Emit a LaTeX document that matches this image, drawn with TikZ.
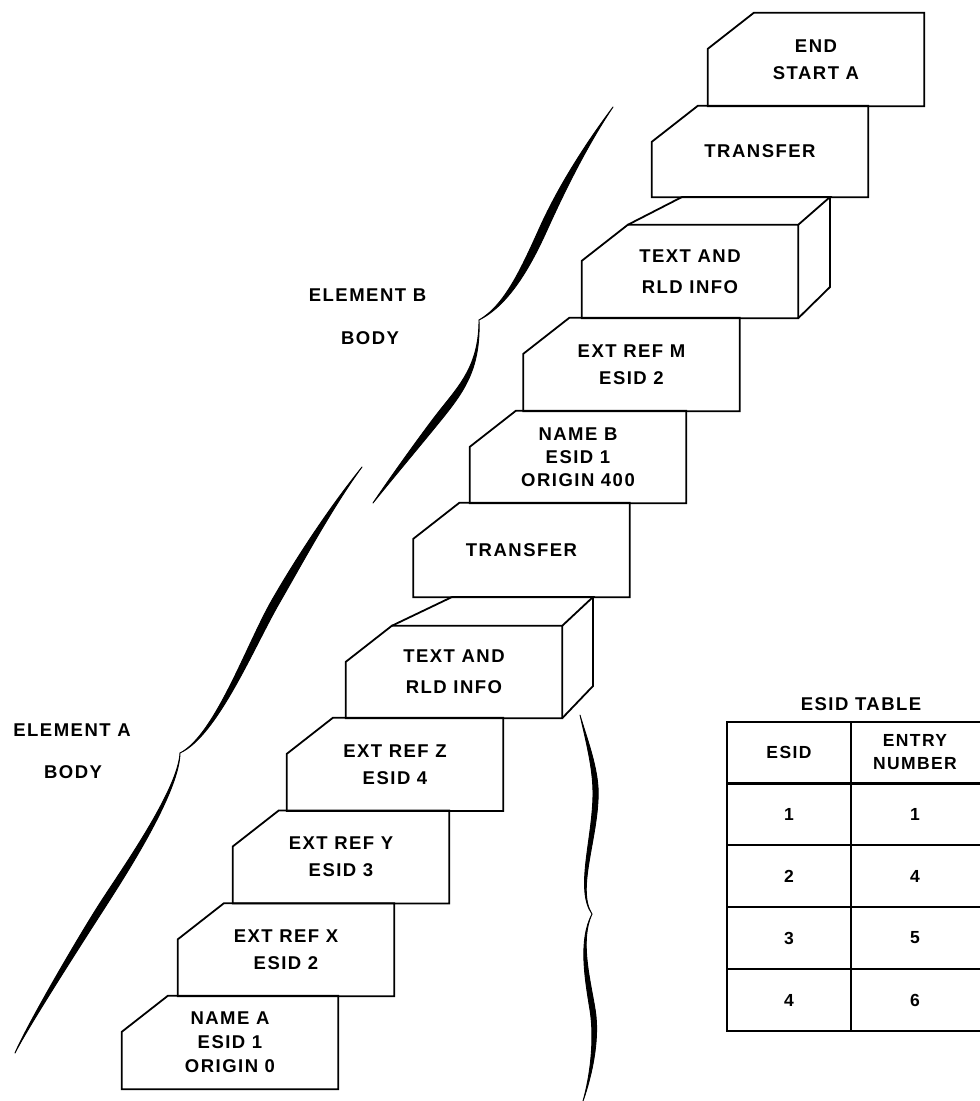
\documentclass[tikz,border=0pt]{standalone}
\usepackage{fontspec}
\newfontfamily\lsans{Liberation Sans}[LetterSpace=8]
\usetikzlibrary{calc}

% card: name, centre x, centre y, height, baselineskip, text
\newcommand\mkcard[6]{%
  \node[cardtext, minimum height=#4, font={\lsans\bfseries\fontsize{18.5}{#5}\selectfont}] (#1) at (#2,#3) {#6};
  \draw[cardline] ($(#1.north west)+(46,0)$) -- (#1.north east) -- (#1.south east)
     -- (#1.south west) -- ($(#1.north west)+(0,36)$) -- cycle;}

% tapered brush stroke: S, A1, A2, M, B1, B2, E, offset
\newcommand\brushstroke[8]{%
  \filldraw[brush] #1 .. controls #2 and #3 .. #4 .. controls #5 and #6 .. #7
    .. controls ($#6+0.3*#8$) and ($#5+#8$) .. ($#4+#8$)
    .. controls ($#3+#8$) and ($#2+0.3*#8$) .. #1 -- cycle;}

\begin{document}
\begin{tikzpicture}[x=1pt,y=-1pt,
  cardline/.style={draw=black, line width=1.8, line join=miter},
  cardtext/.style={inner sep=0, minimum width=216, align=center},
  brush/.style={fill=black, draw=black, line width=0.9, line join=round},
  lbl/.style={inner sep=0, font=\lsans\bfseries\fontsize{18.5}{22}\selectfont},
  tbltxt/.style={inner sep=0, align=center, font=\lsans\bfseries\fontsize{17.5}{23}\selectfont},
  tblline/.style={draw=black, line width=1.6},
  tblhead/.style={draw=black, line width=3}]

\fill[white] (0,0) rectangle (980,1101);
\useasboundingbox (0,0) rectangle (980,1101);

% ---- cards (bottom to top) ----
\mkcard{na}{230}{1042.5}{93}{24}{NAME A\\ESID 1\\ORIGIN 0}
\mkcard{ex}{286}{949.75}{92.5}{27}{EXT REF X\\ESID 2}
\mkcard{ey}{341}{857}{92.75}{27}{EXT REF Y\\ESID 3}
\mkcard{ez}{395}{764.4}{92.75}{27}{EXT REF Z\\ESID 4}
\mkcard{ta}{454}{672}{92}{31}{TEXT AND\\RLD INFO}
\mkcard{tra}{521.5}{550}{94}{25}{TRANSFER}
\mkcard{nb}{578}{457}{92}{23}{NAME B\\ESID 1\\ORIGIN 400}
\mkcard{em}{631.5}{364.5}{93}{27}{EXT REF M\\ESID 2}
\mkcard{tb}{690}{271.5}{93}{31}{TEXT AND\\RLD INFO}
\mkcard{trb}{760}{151.5}{91}{25}{TRANSFER}
\mkcard{en}{816}{59.5}{93}{27}{END\\START A}

% ---- 3D faces of the two TEXT AND RLD INFO blocks ----
\coordinate (ta-bl) at (452,597);
\coordinate (ta-br) at (593,597);
\coordinate (ta-bb) at (593,686);
\draw[cardline] ($(ta.north west)+(46,0)$) -- (ta-bl) -- (ta-br) -- (ta.north east);
\draw[cardline] (ta-br) -- (ta-bb) -- (ta.south east);

\coordinate (tb-bl) at (682,197);
\coordinate (tb-br) at (830,197);
\coordinate (tb-bb) at (830,287);
\draw[cardline] ($(tb.north west)+(46,0)$) -- (tb-bl) -- (tb-br) -- (tb.north east);
\draw[cardline] (tb-br) -- (tb-bb) -- (tb.south east);

% ---- break marks ----
\brushstroke{(613,107)}{(586,143)}{(558.5,186)}{(540,227)}{(521.5,268)}{(505,305)}{(479,320)}{(7,3.2)}
\brushstroke{(479,320)}{(479,365)}{(459.8,385)}{(440,410)}{(424.5,429.5)}{(387,482)}{(373,503)}{(5.6,4.4)}
\brushstroke{(362,467)}{(330.5,506)}{(297,556.5)}{(272,600)}{(247,643.5)}{(215,735)}{(180,753)}{(6.8,4)}
\brushstroke{(180,753)}{(178,790)}{(121.6,869.4)}{(100,903)}{(78.4,936.6)}{(26.7,1025.4)}{(15,1053)}{(5.5,3.6)}
\brushstroke{(580,715)}{(585.5,739)}{(593,768)}{(593,793)}{(593,838)}{(574.6,889.7)}{(592,914)}{(5.2,0)}
\brushstroke{(592,914)}{(578,940.4)}{(585.2,980.3)}{(590,1010)}{(594.8,1039.7)}{(590,1077)}{(583,1101)}{(5.2,0)}

% ---- labels ----
\node[lbl] (ela) at (72,730) {ELEMENT A};
\node[lbl] (elab) at (73,772) {BODY};
\node[lbl] (elb) at (367.5,295) {ELEMENT B};
\node[lbl] (elbb) at (370,338) {BODY};

% ---- ESID table ----
\node[tbltxt, font=\lsans\bfseries\fontsize{18.5}{23}\selectfont] (ttl) at (861,704) {ESID TABLE};
\draw[tblline] (980,722) -- (727,722) -- (727,1031) -- (980,1031);
\draw[tblline] (851,722) -- (851,1031);
\draw[tblhead] (727,783) -- (980,783);
\foreach \yy in {845,907,969} \draw[tblline] (727,\yy) -- (980,\yy);
\node[tbltxt] (hesid) at (789,752.5) {ESID};
\node[tbltxt] (hentry) at (915,752.5) {ENTRY\\NUMBER};
\node[tbltxt] (ra) at (789,814) {1};
\node[tbltxt] (rae) at (915,814) {1};
\node[tbltxt] (rb) at (789,876) {2};
\node[tbltxt] (rbe) at (915,876) {4};
\node[tbltxt] (rc) at (789,938) {3};
\node[tbltxt] (rce) at (915,938) {5};
\node[tbltxt] (rd) at (789,1000) {4};
\node[tbltxt] (rde) at (915,1000) {6};
\end{tikzpicture}
\end{document}
